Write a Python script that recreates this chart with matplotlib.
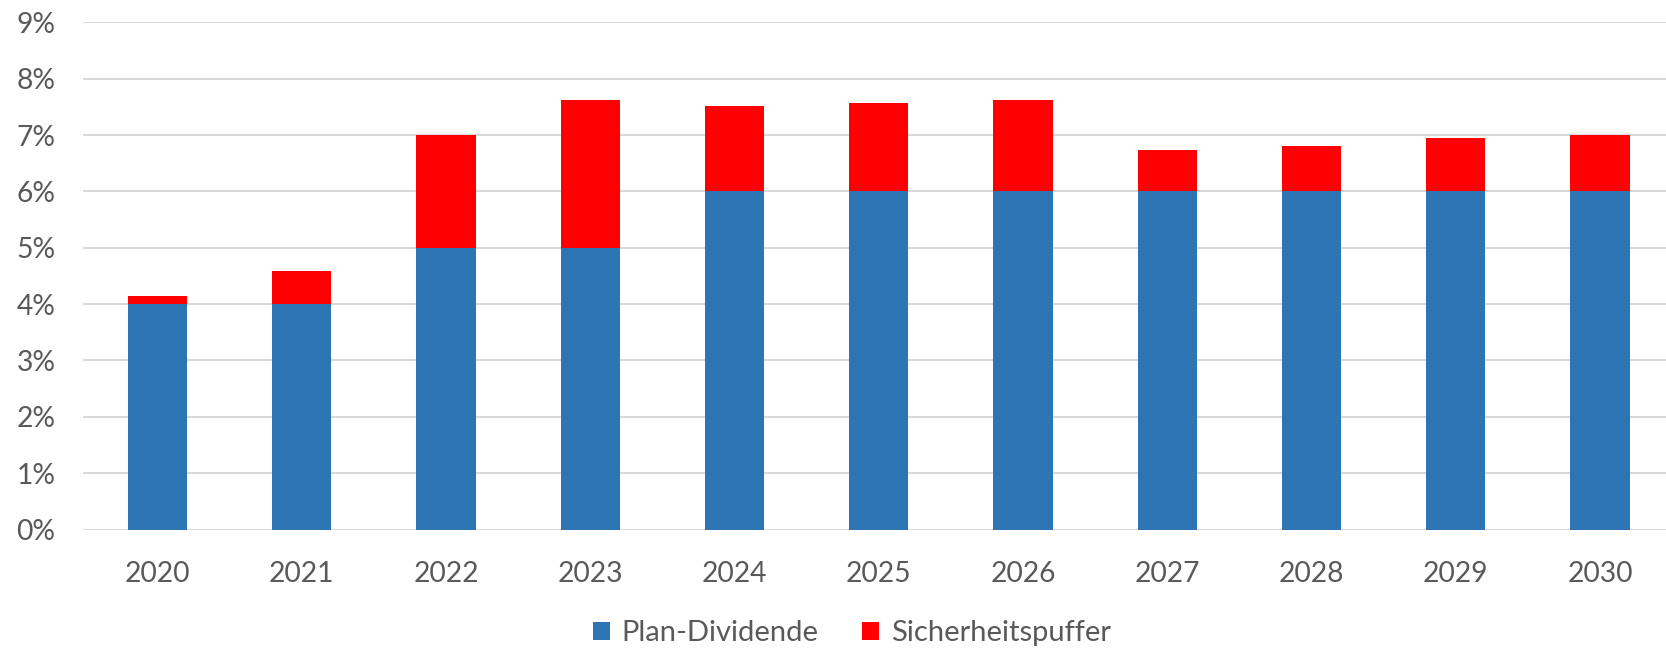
import matplotlib
matplotlib.use("Agg")
import matplotlib.pyplot as plt
import numpy as np
from matplotlib.patches import Patch

years = ["2020", "2021", "2022", "2023", "2024", "2025", "2026", "2027", "2028", "2029", "2030"]
plan_dividende = [4, 4, 5, 5, 6, 6, 6, 6, 6, 6, 6]
sicherheitspuffer = [0.15, 0.58, 2.0, 2.62, 1.51, 1.57, 1.62, 0.73, 0.8, 0.94, 1.0]
ytick_values = [0, 1, 2, 3, 4, 5, 6, 7, 8, 9]
ytick_labels = ["0%", "1%", "2%", "3%", "4%", "5%", "6%", "7%", "8%", "9%"]

blue = "#2E75B6"
red = "#FF0000"
txt = "#595959"
grid = "#D9D9D9"

plt.rcParams['font.family'] = ['Lato', 'DejaVu Sans']

W, H = 1666, 651
fig = plt.figure(figsize=(W / 100, H / 100), dpi=100)
left, right = 83.3, 1666
top, bottom = 22.3, 529.5
ax = fig.add_axes([left / W, (H - bottom) / H, (right - left) / W, (bottom - top) / H])

x = np.arange(len(years))
ax.bar(x, plan_dividende, width=0.41, color=blue, zorder=3, label="Plan-Dividende")
ax.bar(x, sicherheitspuffer, width=0.41, bottom=plan_dividende, color=red, zorder=3,
       label="Sicherheitspuffer")

ax.set_ylim(0, 9)
ax.set_xlim(-0.514, 10.458)
ax.set_yticks(ytick_values)
ax.set_yticklabels(ytick_labels)
ax.set_xticks(x)
ax.set_xticklabels(years)
ax.tick_params(axis='both', length=0, labelsize=20.3, labelcolor=txt)
ax.tick_params(axis='y', pad=20)
ax.tick_params(axis='x', pad=23)
ax.yaxis.grid(True, color=grid, linewidth=1.5, zorder=0)
ax.set_axisbelow(True)
for s in ax.spines.values():
    s.set_visible(False)

handles = [Patch(facecolor=blue, label="Plan-Dividende"),
           Patch(facecolor=red, label="Sicherheitspuffer")]
fig.legend(handles=handles, loc='center', bbox_to_anchor=(852 / W, 1 - 633 / H),
           ncol=2, frameon=False, fontsize=21, labelcolor=txt,
           handlelength=0.57, handleheight=0.57, handletextpad=0.4, columnspacing=1.5)

fig.savefig("out.png", dpi=100)
